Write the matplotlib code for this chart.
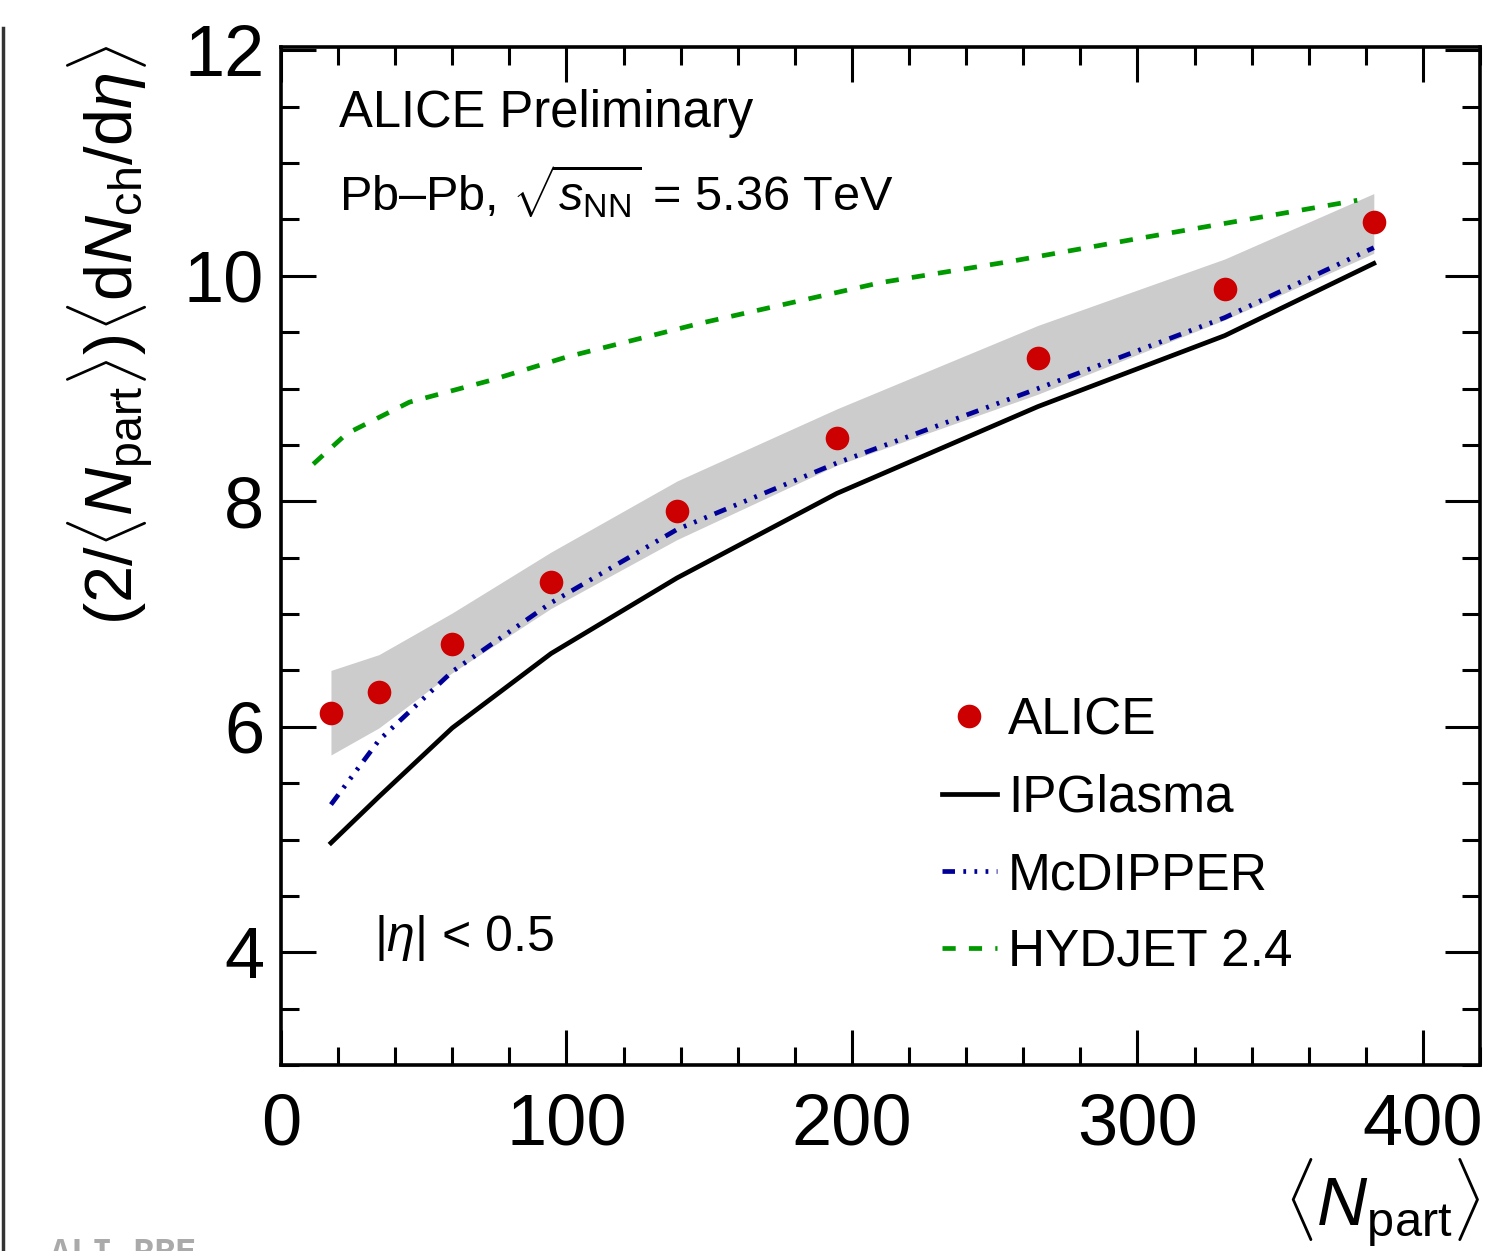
import numpy as np
import matplotlib
matplotlib.use("Agg")
import matplotlib.pyplot as plt
from matplotlib.lines import Line2D

plt.rcParams['font.family'] = ['Liberation Sans', 'DejaVu Sans']
plt.rcParams['mathtext.fontset'] = 'custom'
plt.rcParams['mathtext.rm'] = 'Liberation Sans'
plt.rcParams['mathtext.it'] = 'Liberation Sans:italic'
plt.rcParams['mathtext.bf'] = 'Liberation Sans:bold'
plt.rcParams['lines.scale_dashes'] = False

# ALICE data, <Npart> per centrality class
npart = [17.5, 34.3, 60.0, 94.6, 138.7, 194.7, 265.1, 330.6, 382.8]
alice = [6.12, 6.31, 6.73, 7.28, 7.91, 8.56, 9.27, 9.88, 10.48]
syst_lo = [5.75, 5.99, 6.48, 7.05, 7.66, 8.32, 8.95, 9.61, 10.20]
syst_hi = [6.50, 6.64, 7.01, 7.55, 8.18, 8.82, 9.56, 10.15, 10.73]

# models
ipglasma = [4.97, 5.38, 5.99, 6.65, 7.32, 8.07, 8.84, 9.47, 10.11]
mcdipper = [5.31, 5.88, 6.49, 7.10, 7.75, 8.34, 9.00, 9.63, 10.25]
hydjet_x = [11.3, 23.0, 45.0, 73.0, 100.0, 147.0, 210.0, 256.0, 300.0, 377.0]
hydjet_y = [8.33, 8.60, 8.88, 9.07, 9.28, 9.58, 9.94, 10.13, 10.33, 10.67]

fig = plt.figure(figsize=(14.85, 12.51), dpi=100)
ax = fig.add_axes([281/1485, 1-1065/1251, (1480-281)/1485, (1065-47)/1251])

ax.fill_between(npart, syst_lo, syst_hi, color='#cccccc', lw=0, zorder=1)
l_ip, = ax.plot(npart, ipglasma, color='black', lw=3.4, zorder=2)
l_mc, = ax.plot(npart, mcdipper, color='#000099', lw=3.4,
                dashes=(9, 6, 2, 6, 2, 6, 2, 6), zorder=3)
l_hy, = ax.plot(hydjet_x, hydjet_y, color='#009900', lw=3.4,
                dashes=(9.5, 9.5), zorder=3)
l_al, = ax.plot(npart, alice, 'o', color='#cc0000', ms=17, mec='none', zorder=4)

ax.set_xlim(0, 420)
ax.set_ylim(3, 12.03)
ax.set_xticks([0, 100, 200, 300, 400])
ax.set_xticks(np.arange(0, 421, 20), minor=True)
ax.set_yticks([4, 6, 8, 10, 12])
ax.set_yticks(np.arange(3, 12.01, 0.5), minor=True)
ax.tick_params(which='both', direction='in', top=True, right=True, width=2.2)
ax.tick_params(which='major', length=25, labelsize=52)
ax.tick_params(which='minor', length=13)
ax.tick_params(axis='x', pad=20)
ax.tick_params(axis='y', pad=12)
for s in ax.spines.values():
    s.set_linewidth(2.6)

ax.text(1.0, -0.09, r'$\langle N_{\rm part}\rangle$', transform=ax.transAxes,
        ha='right', va='top', fontsize=50)
fig.text(110/1485, 1-45/1251,
         r'$(2/\langle N_{\rm part}\rangle)\langle {\rm d}N_{\rm ch}/{\rm d}\eta\rangle$',
         rotation=90, ha='center', va='top', fontsize=48)

ax.text(20.3, 11.44, 'ALICE Preliminary', fontsize=36.5, va='center')
ax.text(20.3, 10.75, r'Pb–Pb, $\sqrt{s_{\rm NN}}$ = 5.36 TeV', fontsize=35, va='center')
ax.text(32.5, 4.13, r'$|\eta|$ < 0.5', fontsize=36, va='center')

leg = ax.legend([l_al, l_ip, l_mc, l_hy], ['ALICE', 'IPGlasma', 'McDIPPER', 'HYDJET 2.4'],
                loc='upper left', bbox_to_anchor=(0.551, 0.362), frameon=False,
                fontsize=37, handlelength=1.07, handletextpad=0.22, labelspacing=0.55,
                numpoints=1, borderpad=0, borderaxespad=0)

# left-edge frame line and cut-off watermark
fig.add_artist(Line2D([3/1485, 3/1485], [0, 1-28/1251], color='#333333', lw=2.5))
fig.text(50/1485, 1-1262/1251, 'ALI-PRE', fontsize=25, color='#aaaaaa',
         family='Liberation Mono', fontweight='bold', va='baseline')

fig.savefig('out.png', dpi=100)
